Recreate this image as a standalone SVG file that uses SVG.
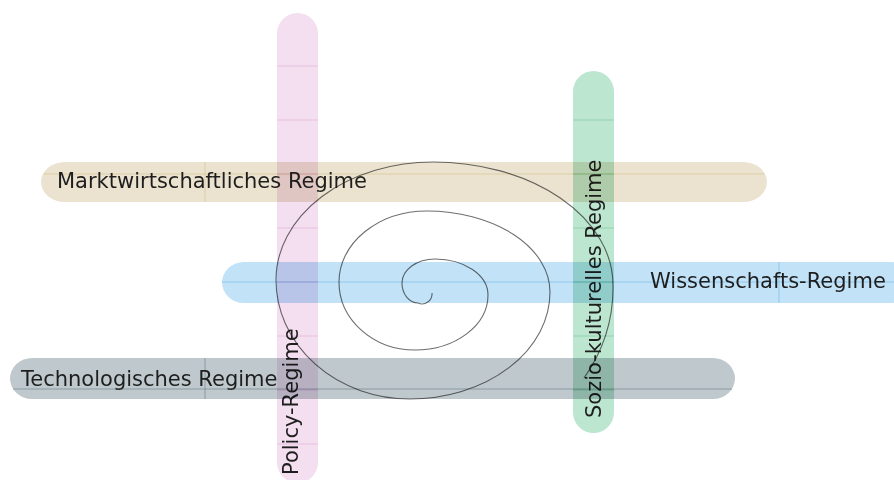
<svg xmlns="http://www.w3.org/2000/svg" width="894" height="480" viewBox="0 0 894 480">
<style>
.bar{mix-blend-mode:multiply}
.lbl{font-family:"DejaVu Sans","Verdana",sans-serif;font-size:21px;fill:#1e1e1e}
.g{stroke-width:0.7;fill:none}
.spiral{fill:none;stroke:#6e6e6e;stroke-width:1.1}
</style>
<rect width="894" height="480" fill="#ffffff"/>
<g id="connectors">
<path class="spiral" d="M 432 293 A 10 10 0 0 1 418 303 A 16 20 0 0 1 402 283 A 33 24 0 0 1 435 259 A 53 36 0 0 1 488 295 A 73 55 0 0 1 415 350 A 76 68 0 0 1 339 282 A 88 71 0 0 1 427 211 A 123 81 0 0 1 550 292 A 140 107 0 0 1 410 399 A 134 119 0 0 1 276 280 A 157 118 0 0 1 433 162 A 180 123 0 0 1 613 285 A 190 170 0 0 1 584 378"/>
</g>
<g id="policy">
<g class="bar">
<rect x="277" y="13" width="41" height="470" rx="20.5" fill="#f3dff0"/>
<path class="g" stroke="#e5b3da" d="M277 66H318M277 120H318M277 174H318M277 228H318M277 282H318M277 336H318M277 390H318M277 444H318"/>
</g>
<text class="lbl" transform="translate(298,475) rotate(-90)">Policy-Regime</text>
</g>
<g id="sozio">
<g class="bar">
<rect x="573" y="71" width="41" height="362" rx="20.5" fill="#bde6d0"/>
<path class="g" stroke="#7fcaa0" d="M573 120H614M573 174H614M573 228H614M573 282H614M573 336H614M573 390H614"/>
</g>
<text class="lbl" transform="translate(601,418) rotate(-90)">Sozio-kulturelles Regime</text>
</g>
<g id="markt">
<g class="bar">
<rect x="41" y="162" width="726" height="40" rx="24" ry="20" fill="#ebe3d0"/>
<path class="g" stroke="#d6c592" d="M44 174H764M205 162V202"/>
</g>
<text class="lbl" x="57" y="188">Marktwirtschaftliches Regime</text>
</g>
<g id="wissen">
<g class="bar">
<rect x="222" y="262" width="690" height="41" rx="22" ry="20.5" fill="#c2e2f7"/>
<path class="g" stroke="#7dbde6" d="M222 282H912M779 262V303"/>
</g>
<text class="lbl" x="650" y="288">Wissenschafts-Regime</text>
</g>
<g id="techno">
<g class="bar">
<rect x="10" y="358" width="725" height="41" rx="22" ry="20.5" fill="#bfc9cd"/>
<path class="g" stroke="#72848c" d="M13 389H732M205 358V399"/>
</g>
<text class="lbl" x="21" y="386">Technologisches Regime</text>
</g>
</svg>
